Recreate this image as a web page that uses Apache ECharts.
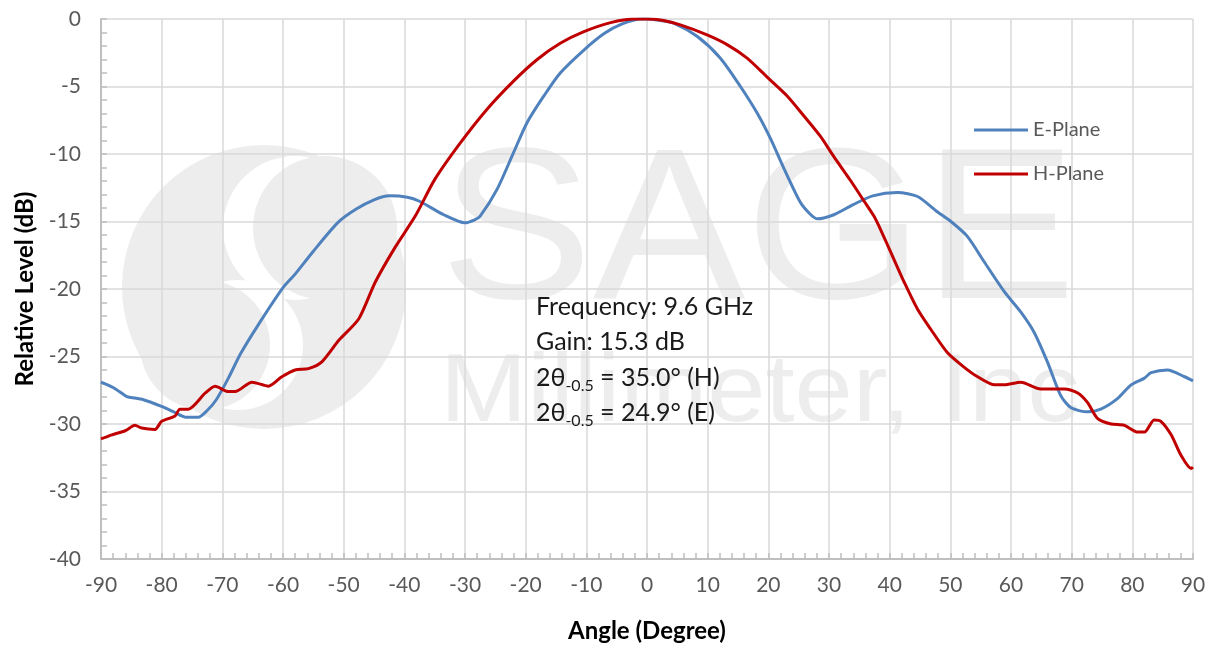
<!DOCTYPE html>
<html>
<head>
<meta charset="utf-8">
<script src="https://cdn.jsdelivr.net/npm/echarts@6/dist/echarts.min.js"></script>
<style>
    html,body{margin:0;padding:0;background:#fff;}
    #chart{width:1210px;height:648px;}
</style>
</head>
<body>
<div id="chart"></div>
<script>
    // E-Plane (angle, dB)
    var eAngle = [-90,-88,-86,-85.5,-83,-80,-78,-76,-74,-72.5,-71,-69,-67,-64,-60,-58,-55,-51,-48,-45,-42.5,-39.5,-37.5,-33.5,-30,-28.5,-27.5,-24.7,-22,-19.8,-17,-14.3,-10.4,-7,-4,-1,0,2,4.4,8.3,12.1,15.4,18.2,20.4,22.6,25.3,27,28.1,30.8,34,37.2,41.3,44.6,47.9,50.1,52.8,55.6,58.9,61.6,63.8,66,68.2,69.9,72.6,74.8,77.6,79.8,82,83.1,85.8,88.6,90];
    var eLevel = [-26.9,-27.3,-27.9,-28.0,-28.2,-28.7,-29.1,-29.5,-29.5,-29.0,-28.2,-26.6,-24.8,-22.6,-19.9,-18.9,-17.2,-15.1,-14.1,-13.4,-13.1,-13.2,-13.5,-14.5,-15.1,-14.9,-14.6,-12.6,-9.9,-7.7,-5.7,-4.0,-2.3,-1.06,-0.35,0,0,-0.1,-0.3,-1.3,-2.9,-5.0,-7.0,-8.9,-11.1,-13.6,-14.5,-14.8,-14.5,-13.75,-13.1,-12.85,-13.15,-14.3,-15.0,-16.1,-18.0,-20.2,-21.7,-23.2,-25.4,-27.9,-28.8,-29.1,-28.9,-28.1,-27.1,-26.6,-26.2,-26.0,-26.5,-26.8];

    // H-Plane (angle, dB)
    var hAngle = [-90,-88.2,-86,-84.4,-83.3,-81.1,-80,-77.8,-77,-75.6,-72.8,-71.2,-69,-67.9,-65.1,-62.4,-60.2,-58,-55.8,-53.6,-50.8,-47.5,-44.8,-41.5,-38.2,-35,-30.8,-26.4,-22,-18.1,-14.3,-10.4,-6,-2.2,0,2.5,5.5,9.9,13.2,16.5,19.8,23.1,25.9,28.6,30.8,33.6,35.8,37.4,38.5,40.7,42.4,44.6,46.8,49.5,52.3,54.5,57.3,58.9,61.6,64.9,68.8,71,72.6,74.3,76.5,78.7,80.9,82,83.6,84.7,86.4,88,89.7,90];
    var hLevel = [-31.1,-30.8,-30.5,-30.1,-30.3,-30.4,-29.8,-29.4,-28.9,-28.9,-27.7,-27.2,-27.6,-27.6,-26.9,-27.2,-26.5,-26.0,-25.9,-25.4,-23.8,-22.2,-19.5,-16.9,-14.6,-11.9,-9.2,-6.7,-4.6,-3.0,-1.8,-0.94,-0.27,0,0,-0.1,-0.44,-1.18,-1.9,-2.9,-4.3,-5.7,-7.2,-8.7,-10.2,-12.0,-13.5,-14.6,-15.6,-17.8,-19.5,-21.5,-23.0,-24.7,-25.8,-26.5,-27.1,-27.1,-26.9,-27.4,-27.4,-27.7,-28.4,-29.6,-30.0,-30.1,-30.6,-30.6,-29.7,-29.8,-30.8,-32.3,-33.3,-33.2];

    var notes = ['Frequency: 9.6 GHz','Gain: 15.3 dB','35.0° (H)','24.9° (E)'];

    function pairs(xs, ys){
        var out = [];
        for(var i=0;i<xs.length;i++){ out.push([xs[i], ys[i]]); }
        return out;
    }

    var FONT = 'Lato';
    var WM = '#ededed';
    var subRich = {
        a:{fontFamily:FONT,fontSize:25,lineHeight:32,fill:'#1a1a1a'},
        s:{fontFamily:FONT,fontSize:16,lineHeight:15,verticalAlign:'bottom',fill:'#1a1a1a'}
    };
    var chart = echarts.init(document.getElementById('chart'));
    var option = {
        animation:false,
        textStyle:{fontFamily:FONT},
        grid:{left:101,right:17,top:19,bottom:87},
        legend:{
            orient:'vertical',
            left:969,
            top:115,
            itemGap:24,
            itemWidth:54,
            itemHeight:3,
            icon:'rect',
            textStyle:{fontFamily:FONT,fontSize:20,color:'#595959'},
            data:['E-Plane','H-Plane']
        },
        xAxis:{
            type:'value',
            min:-90,
            max:90,
            interval:10,
            name:'Angle (Degree)',
            nameLocation:'middle',
            nameGap:60,
            nameTextStyle:{fontFamily:FONT,fontSize:24,fontWeight:'bold',color:'#000'},
            axisLine:{show:true,onZero:false,lineStyle:{color:'#bfbfbf',width:2}},
            axisTick:{show:true,inside:true,length:6,lineStyle:{color:'#bfbfbf',width:1.5}},
            minorTick:{show:true,splitNumber:5,length:6,lineStyle:{color:'#bfbfbf',width:1.5}},
            axisLabel:{fontFamily:FONT,fontSize:21,color:'#595959',margin:16},
            splitLine:{show:true,lineStyle:{color:'#d9d9d9',width:1.5}}
        },
        yAxis:{
            type:'value',
            min:-40,
            max:0,
            interval:5,
            name:'Relative Level (dB)',
            nameLocation:'middle',
            nameRotate:90,
            nameGap:64,
            nameTextStyle:{fontFamily:FONT,fontSize:24,fontWeight:'bold',color:'#000'},
            axisLine:{show:true,onZero:false,lineStyle:{color:'#bfbfbf',width:2}},
            axisTick:{show:true,inside:true,length:6,lineStyle:{color:'#bfbfbf',width:1.5}},
            minorTick:{show:true,splitNumber:5,length:6,lineStyle:{color:'#bfbfbf',width:1.5}},
            axisLabel:{fontFamily:FONT,fontSize:21,color:'#595959',margin:20},
            splitLine:{show:true,lineStyle:{color:'#d9d9d9',width:1.5}}
        },
        graphic:[
            // watermark logo
            {type:'circle',z:-10,shape:{cx:264,cy:287,r:142},style:{fill:WM}},
            {type:'circle',z:-9,shape:{cx:295,cy:228,r:72},style:{fill:'#fff'}},
            {type:'circle',z:-8,shape:{cx:325,cy:228,r:72},style:{fill:WM}},
            {type:'circle',z:-9,shape:{cx:238,cy:345,r:65},style:{fill:'#fff'}},
            {type:'circle',z:-8,shape:{cx:205,cy:345,r:65},style:{fill:WM}},
            {type:'text',z:-10,x:440,y:238,scaleX:1.06,style:{text:'SAGE',font:'216px "Liberation Sans"',fill:WM,verticalAlign:'middle'}},
            {type:'text',z:-10,x:440,y:395,scaleX:1.09,style:{text:'Millimeter, Inc',font:'96px "Liberation Sans"',fill:WM,verticalAlign:'middle'}},
            // annotation
            {type:'text',z:100,x:536,y:307,style:{text:notes[0],font:'25px '+FONT,fill:'#1a1a1a',verticalAlign:'middle'}},
            {type:'text',z:100,x:536,y:342,style:{text:notes[1],font:'25px '+FONT,fill:'#1a1a1a',verticalAlign:'middle'}},
            {type:'text',z:100,x:536,y:378,style:{text:'{a|2θ}{s|-0.5}{a| = '+notes[2]+'}',verticalAlign:'middle',rich:subRich}},
            {type:'text',z:100,x:536,y:413,style:{text:'{a|2θ}{s|-0.5}{a| = '+notes[3]+'}',verticalAlign:'middle',rich:subRich}}
        ],
        series:[
            {
                name:'E-Plane',
                type:'line',
                smooth:0.25,
                showSymbol:false,
                symbol:'none',
                lineStyle:{width:3,color:'#4f81bd'},
                itemStyle:{color:'#4f81bd'},
                data:pairs(eAngle,eLevel)
            },
            {
                name:'H-Plane',
                type:'line',
                smooth:0.25,
                showSymbol:false,
                symbol:'none',
                lineStyle:{width:3,color:'#c00000'},
                itemStyle:{color:'#c00000'},
                data:pairs(hAngle,hLevel)
            }
        ]
    };
    chart.setOption(option);
</script>
</body>
</html>
